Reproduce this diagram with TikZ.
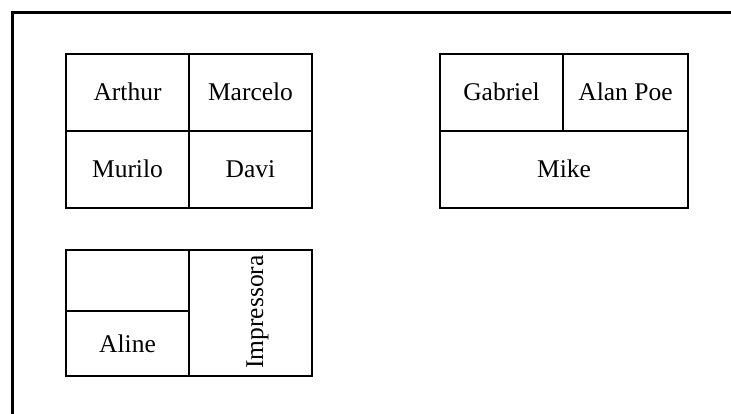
\documentclass[tikz,border=0pt]{standalone}
\usepackage{fontspec}
\setmainfont{Liberation Serif}
\begin{document}
\begin{tikzpicture}[x=1pt,y=-1pt,
  cell/.style={draw,line width=2pt,inner sep=0pt,text height=17pt,text depth=0pt,
    font=\fontsize{25.5}{30}\selectfont},
  lbl/.style={inner sep=0pt,text height=17pt,text depth=0pt,
    font=\fontsize{25.5}{30}\selectfont}]
\useasboundingbox (0,0) rectangle (731,414);
% frame
\draw[line width=3pt] (12.5,416) -- (12.5,12.5) -- (733,12.5);
% box 1
\node[cell,minimum width=123pt,minimum height=77pt] (arthur) at (127.5,92.5) {Arthur};
\node[cell,minimum width=123pt,minimum height=77pt] (marcelo) at (250.5,92.5) {Marcelo};
\node[cell,minimum width=123pt,minimum height=77pt] (murilo) at (127.5,169.5) {Murilo};
\node[cell,minimum width=123pt,minimum height=77pt] (davi) at (250.5,169.5) {Davi};
% box 2
\node[cell,minimum width=123pt,minimum height=77pt] (gabriel) at (501.5,92.5) {Gabriel};
\node[cell,minimum width=125pt,minimum height=77pt] (alan) at (625.5,92.5) {Alan Poe};
\node[cell,minimum width=248pt,minimum height=77pt] (mike) at (564,169.5) {Mike};
% box 3
\node[cell,minimum width=123pt,minimum height=61pt] (empty) at (127.5,280.5) {};
\node[cell,minimum width=123pt,minimum height=65pt] (aline) at (127.5,343.5) {Aline};
\node[cell,minimum width=123pt,minimum height=126pt] (imp) at (250.5,313) {};
\node[lbl,rotate=90] (imptext) at (254.5,312) {Impressora};
\end{tikzpicture}
\end{document}
